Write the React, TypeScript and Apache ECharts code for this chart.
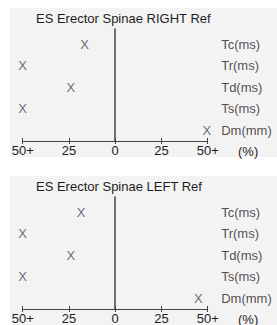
import React, { useEffect, useRef } from "react";
import * as echarts from "echarts";

const titles = ["ES Erector Spinae RIGHT Ref", "ES Erector Spinae LEFT Ref"];
const rows = ["Tc(ms)", "Tr(ms)", "Td(ms)", "Ts(ms)", "Dm(mm)"];
const rightValues = [-16.5, -50, -24, -50, 49.5];
const leftValues = [-18.5, -50, -24, -50, 45];
const xTicks = [-50, -25, 0, 25, 50];
const unitLabel = "(%)";

const FONT = "'Liberation Sans', Arial, sans-serif";
const TEXT = "#1e1e1e";
const AXIS = "#444444";

export default function App() {
  const ref = useRef<HTMLDivElement>(null);
  useEffect(() => {
    if (!ref.current) return;
    const chart = echarts.init(ref.current, null, { renderer: "svg" });
    const panels = [rightValues, leftValues];
    const offsets = [0, 168];
    const grids: any[] = [];
    const xAxes: any[] = [];
    const yAxes: any[] = [];
    const series: any[] = [];
    const titleOpts: any[] = [];
    const graphics: any[] = [];
    panels.forEach((vals, p) => {
      const o = offsets[p];
      graphics.push({
        type: "rect",
        shape: { x: 10, y: 8 + o, width: 267, height: 149 },
        style: { fill: "#f3f3f3" },
        z: -10,
        silent: true,
      });
      graphics.push({
        type: "text",
        x: 238,
        y: 151 + o,
        silent: true,
        style: {
          text: unitLabel,
          fontFamily: FONT,
          fontSize: 13,
          fill: TEXT,
          align: "left",
          verticalAlign: "middle",
        },
      });
      titleOpts.push({
        text: titles[p],
        left: 36,
        top: 12 + o,
        padding: 0,
        textStyle: { fontFamily: FONT, fontSize: 13, fontWeight: "normal", color: TEXT },
      });
      grids.push({ left: 22.7, right: 69.3, top: 29 + o, height: 112 });
      const xBase = {
        type: "value",
        gridIndex: p,
        min: xTicks[0],
        max: xTicks[xTicks.length - 1],
        interval: 25,
        splitLine: { show: false },
      };
      xAxes.push({
        ...xBase,
        position: "bottom",
        axisLine: { onZero: false, lineStyle: { color: AXIS, width: 1 } },
        axisTick: { show: true, inside: false, length: 3, lineStyle: { color: AXIS } },
        axisLabel: {
          margin: 3,
          fontFamily: FONT,
          fontSize: 13,
          color: TEXT,
          formatter: (v: number) => (Math.abs(v) === 50 ? "50+" : String(Math.abs(v))),
        },
      });
      xAxes.push({
        ...xBase,
        position: "bottom",
        axisLine: { show: false, onZero: false },
        axisTick: { show: true, inside: true, length: 3, lineStyle: { color: AXIS } },
        axisLabel: { show: false },
      });
      yAxes.push({
        type: "value",
        gridIndex: p,
        min: 0.49,
        max: 5.7,
        axisLine: { show: true, onZero: true, lineStyle: { color: AXIS, width: 1.5 } },
        axisTick: { show: false },
        axisLabel: { show: false },
        splitLine: { show: false },
      });
      series.push({
        type: "scatter",
        xAxisIndex: p * 2,
        yAxisIndex: p,
        silent: true,
        symbolSize: 1,
        itemStyle: { color: "rgba(0,0,0,0)" },
        data: vals.map((v, i) => [v, rows.length - i]),
        label: {
          show: true,
          position: "inside",
          formatter: "X",
          fontFamily: FONT,
          fontSize: 13,
          color: "#46465a",
        },
      });
      series.push({
        type: "scatter",
        xAxisIndex: p * 2,
        yAxisIndex: p,
        silent: true,
        symbolSize: 1,
        itemStyle: { color: "rgba(0,0,0,0)" },
        data: rows.map((r, i) => [xTicks[xTicks.length - 1], rows.length - i, r]),
        label: {
          show: true,
          position: "right",
          distance: 13,
          formatter: (d: any) => d.data[2],
          fontFamily: FONT,
          fontSize: 13,
          color: TEXT,
        },
      });
    });
    chart.setOption({
      animation: false,
      backgroundColor: "#ffffff",
      title: titleOpts,
      grid: grids,
      xAxis: xAxes,
      yAxis: yAxes,
      series,
      graphic: graphics,
    });
    return () => chart.dispose();
  }, []);
  return (
    <div
      ref={ref}
      style={{ position: "absolute", left: 0, top: 0, width: 277, height: 325 }}
    />
  );
}
